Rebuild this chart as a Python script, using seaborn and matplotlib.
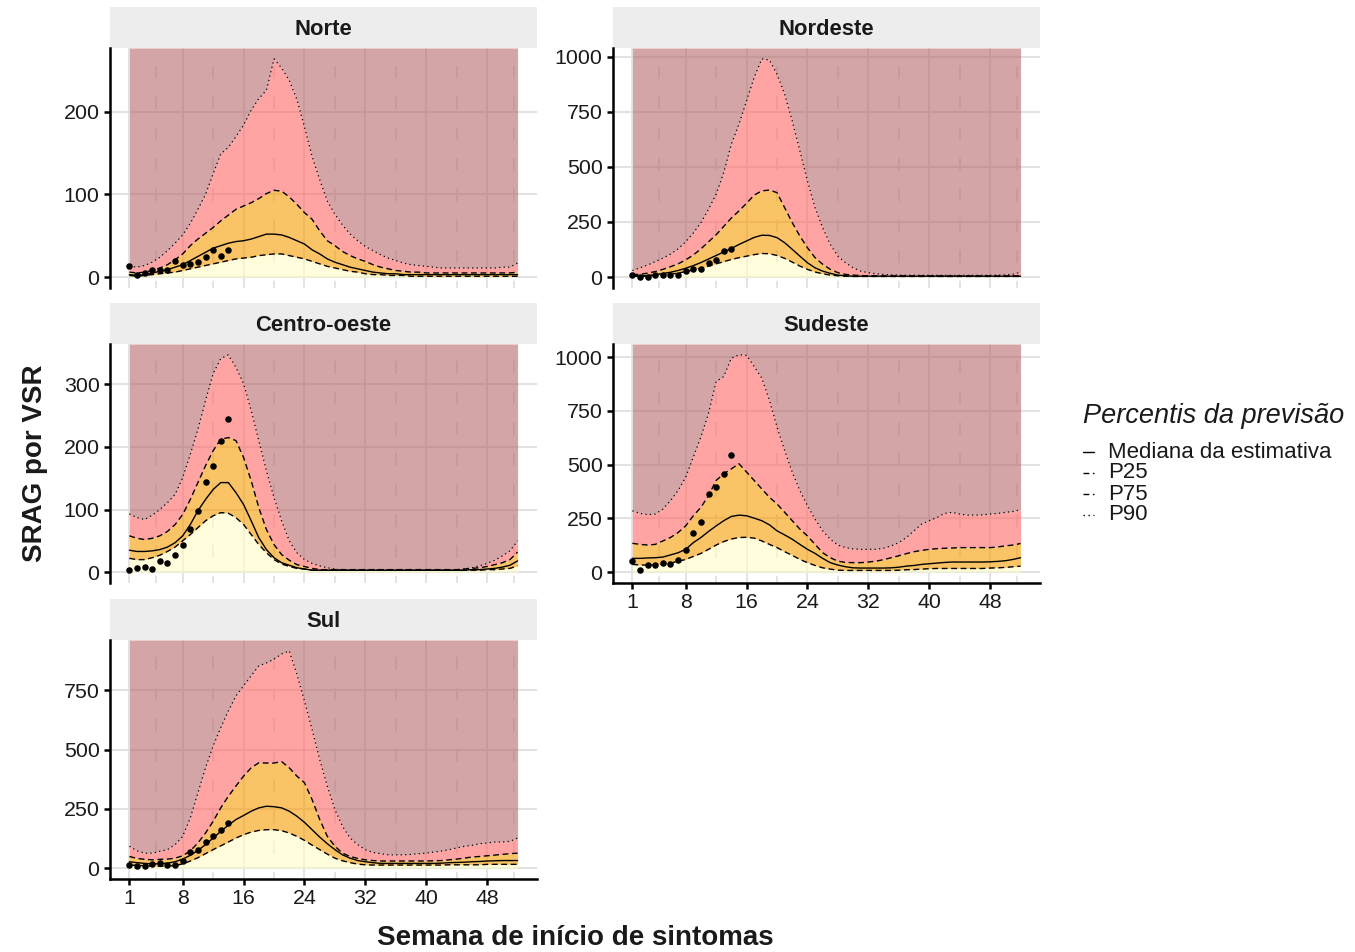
import matplotlib
matplotlib.use("Agg")
import matplotlib.pyplot as plt
from matplotlib.lines import Line2D
import numpy as np
import pandas as pd
import seaborn as sns

# ---------------- data ----------------
weeks = list(range(1, 53))
obs_weeks = list(range(1, 15))
regions = ["Norte", "Nordeste", "Centro-oeste", "Sudeste", "Sul"]
x_ticks = [1, 8, 16, 24, 32, 40, 48]

norte_med = [3, 2, 3, 5, 7, 9, 12, 15, 20, 25, 30, 35, 38, 41, 43, 44, 46, 49, 52, 52, 51, 48, 44, 40,
             33, 28, 22, 18, 15, 12, 10, 8, 6, 5, 4, 4, 3, 3, 3, 3, 3, 3, 3, 3, 3, 3, 3, 3, 3, 3, 3, 3]
norte_p25 = [2, 1, 2, 3, 4, 5, 6, 8, 10, 12, 14, 16, 18, 20, 22, 23, 24, 26, 27, 28, 28, 26, 24, 22,
             19, 16, 13, 11, 9, 7, 6, 4, 3, 3, 2, 2, 2, 1, 1, 1, 1, 1, 1, 1, 1, 1, 1, 1, 1, 1, 1, 1]
norte_p75 = [6, 5, 6, 8, 11, 15, 21, 28, 38, 46, 53, 60, 68, 75, 82, 86, 90, 95, 101, 105, 104, 97, 88, 78,
             70, 56, 44, 38, 31, 26, 22, 19, 15, 12, 10, 8, 7, 6, 6, 5, 5, 5, 5, 5, 5, 5, 5, 5, 5, 5, 5, 6]
norte_p90 = [13, 12, 14, 18, 24, 32, 41, 51, 65, 82, 100, 125, 149, 157, 170, 184, 202, 216, 226, 264, 253, 238, 215, 182,
             146, 118, 92, 76, 63, 52, 44, 37, 32, 27, 23, 20, 17, 15, 14, 13, 12, 11, 11, 11, 11, 11, 11, 11, 11, 12, 12, 17]
norte_obs = [14, 2, 4.5, 8, 8.5, 9, 19, 15, 16, 18, 24, 33, 25, 33]

nordeste_med = [8, 5, 7, 11, 16, 22, 30, 40, 52, 66, 82, 98, 114, 130, 148, 164, 180, 190, 189, 179, 156, 126, 95, 65,
                42, 27, 17, 9, 6, 4, 4, 4, 4, 4, 4, 4, 4, 4, 4, 4, 4, 4, 4, 4, 4, 4, 4, 4, 4, 4, 4, 4]
nordeste_p25 = [4, 3, 5, 7, 10, 13, 18, 25, 32, 40, 50, 60, 70, 80, 88, 95, 102, 107, 106, 98, 85, 68, 50, 35,
                23, 15, 9, 6, 4, 3, 3, 3, 3, 3, 3, 3, 3, 3, 3, 3, 3, 3, 3, 3, 3, 3, 3, 3, 3, 3, 3, 3]
nordeste_p75 = [12, 12, 18, 25, 35, 47, 60, 78, 100, 128, 160, 192, 230, 268, 300, 335, 372, 391, 395, 383, 315, 247, 186, 133,
                88, 58, 35, 20, 12, 9, 7, 6, 6, 5, 5, 5, 5, 5, 5, 5, 5, 5, 5, 5, 5, 5, 5, 5, 5, 5, 5, 6]
nordeste_p90 = [30, 42, 55, 70, 86, 104, 128, 160, 200, 247, 308, 376, 474, 603, 694, 800, 906, 990, 985, 921, 830, 709, 573, 436,
                315, 224, 148, 95, 65, 42, 27, 20, 15, 12, 10, 9, 8, 8, 8, 8, 8, 8, 8, 8, 8, 8, 8, 8, 9, 10, 13, 22]
nordeste_obs = [8, 0, 2, 8, 8, 8, 9, 27, 36, 38, 62, 76, 118, 126]

centro_med = [35, 33, 33, 34, 36, 40, 47, 58, 76, 98, 116, 132, 143, 143, 127, 108, 82, 55, 36, 23, 15, 11, 7, 5,
              3, 3, 3, 3, 3, 3, 3, 3, 3, 3, 3, 3, 3, 3, 3, 3, 3, 3, 3, 3, 3, 4, 4, 5, 6, 8, 11, 18]
centro_p25 = [22, 20, 20, 23, 27, 33, 40, 50, 60, 71, 82, 90, 95, 94, 87, 76, 60, 44, 31, 20, 13, 9, 6, 5,
              3, 3, 3, 3, 3, 3, 3, 3, 3, 3, 3, 3, 3, 3, 3, 3, 3, 3, 3, 3, 3, 3, 3, 4, 4, 5, 6, 10]
centro_p75 = [58, 54, 52, 54, 58, 65, 76, 92, 116, 143, 170, 194, 212, 215, 210, 183, 146, 103, 68, 44, 28, 19, 12, 9,
              6, 4, 4, 4, 4, 4, 4, 4, 4, 4, 4, 4, 4, 4, 4, 4, 4, 4, 4, 4, 5, 6, 7, 9, 12, 15, 20, 32]
centro_p90 = [93, 87, 84, 91, 100, 111, 124, 151, 188, 228, 274, 317, 341, 347, 327, 301, 258, 210, 162, 119, 82, 50, 31, 20,
              14, 10, 7, 5, 3, 3, 3, 3, 3, 3, 3, 3, 3, 3, 3, 3, 3, 3, 3, 3, 5, 7, 10, 14, 19, 26, 34, 50]
centro_obs = [4, 6, 9, 5, 18, 14, 28, 44, 69, 98, 144, 169, 210, 244]

sudeste_med = [64, 64, 66, 67, 70, 80, 90, 106, 137, 161, 189, 215, 239, 259, 265, 262, 251, 239, 220, 192, 173, 153, 129, 106,
               87, 64, 44, 33, 25, 20, 19, 19, 19, 19, 20, 23, 28, 31, 36, 39, 42, 45, 47, 47, 47, 47, 47, 48, 50, 53, 59, 67]
sudeste_p25 = [36, 33, 33, 33, 36, 42, 50, 59, 73, 87, 106, 126, 142, 154, 161, 162, 158, 145, 129, 114, 95, 78, 59, 44,
               31, 20, 14, 9, 8, 8, 8, 8, 8, 8, 8, 9, 11, 12, 14, 16, 17, 17, 17, 17, 17, 17, 17, 19, 20, 22, 25, 28]
sudeste_p75 = [134, 129, 126, 129, 145, 161, 184, 215, 262, 301, 356, 426, 457, 480, 504, 465, 426, 387, 348, 317, 278, 239, 200, 168,
               129, 90, 67, 51, 45, 44, 44, 47, 51, 58, 67, 76, 86, 95, 101, 106, 109, 111, 112, 114, 114, 114, 114, 114, 117, 122, 126, 133]
sudeste_p90 = [285, 273, 267, 270, 293, 332, 379, 441, 535, 629, 738, 886, 909, 995, 1010, 1008, 956, 902, 800, 675, 566, 465, 379, 309,
               246, 192, 153, 126, 114, 108, 106, 106, 106, 111, 122, 137, 161, 192, 223, 239, 254, 273, 278, 270, 265, 265, 266, 270, 273, 278, 282, 290]
sudeste_obs = [51, 12, 33, 31, 44, 36, 56, 101, 181, 234, 362, 398, 455, 543]

sul_med = [27, 23, 20, 18, 18, 21, 27, 38, 54, 75, 99, 127, 155, 181, 205, 222, 240, 254, 261, 259, 254, 240, 219, 193,
           162, 131, 103, 78, 56, 42, 32, 27, 23, 20, 20, 20, 20, 20, 20, 20, 20, 21, 23, 24, 25, 27, 28, 30, 31, 32, 32, 32]
sul_p25 = [14, 11, 10, 8, 8, 8, 11, 18, 30, 44, 61, 78, 94, 110, 127, 141, 152, 159, 162, 162, 158, 148, 134, 117,
           97, 78, 59, 42, 31, 23, 17, 14, 13, 13, 13, 13, 13, 13, 13, 13, 13, 13, 14, 14, 14, 14, 14, 16, 16, 16, 16, 16]
sul_p75 = [49, 41, 37, 35, 37, 38, 42, 52, 73, 106, 148, 197, 254, 303, 346, 388, 423, 444, 443, 443, 449, 423, 388, 360,
           289, 205, 134, 92, 63, 49, 41, 35, 32, 30, 30, 30, 30, 30, 30, 30, 31, 32, 35, 38, 42, 47, 49, 52, 55, 58, 61, 63]
sul_p90 = [92, 73, 63, 63, 71, 78, 99, 134, 212, 317, 423, 515, 592, 663, 726, 769, 811, 853, 865, 881, 903, 916, 818, 705,
           585, 458, 346, 247, 176, 127, 99, 78, 66, 61, 56, 56, 56, 58, 61, 63, 68, 72, 78, 85, 92, 96, 103, 106, 110, 110, 113, 127]
sul_obs = [14, 10, 10, 16, 21, 14, 13, 32, 66, 75, 110, 134, 162, 190]

y_ticks = {
    "Norte": [0, 100, 200],
    "Nordeste": [0, 250, 500, 750, 1000],
    "Centro-oeste": [0, 100, 200, 300],
    "Sudeste": [0, 250, 500, 750, 1000],
    "Sul": [0, 250, 500, 750],
}

series = {
    "Norte": (norte_med, norte_p25, norte_p75, norte_p90, norte_obs),
    "Nordeste": (nordeste_med, nordeste_p25, nordeste_p75, nordeste_p90, nordeste_obs),
    "Centro-oeste": (centro_med, centro_p25, centro_p75, centro_p90, centro_obs),
    "Sudeste": (sudeste_med, sudeste_p25, sudeste_p75, sudeste_p90, sudeste_obs),
    "Sul": (sul_med, sul_p25, sul_p75, sul_p90, sul_obs),
}

# ---------------- style ----------------
sns.set_style("white")
plt.rcParams["font.family"] = ["Liberation Sans", "DejaVu Sans"]
plt.rcParams["axes.unicode_minus"] = False

W, H = 1355, 952
fig = plt.figure(figsize=(W / 100, H / 100), dpi=100)


def frac(x0, y0, x1, y1):
    return [x0 / W, 1 - y1 / H, (x1 - x0) / W, (y1 - y0) / H]


# panel pixel boxes: left, top, right, bottom, has x-axis
layout = {
    "Norte": (110, 48, 537, 288, False),
    "Nordeste": (613, 48, 1040, 288, False),
    "Centro-oeste": (110, 344, 537, 583, False),
    "Sudeste": (613, 344, 1040, 583, True),
    "Sul": (110, 640, 537, 879, True),
}

ALPHA = 0.6
C_TOP = "#B7696B"
C_HIGH = "#FF6666"
C_MID = "#F89B00"
C_LOW = "#FFFDC3"
GRID = "#E2E2E2"
TXT = "#1A1A1A"

LS_DASH = (0, (4.2, 2.6))
LS_DOT = (0, (1, 2.6))

for reg in regions:
    x0, y0, x1, y1, has_x = layout[reg]
    med, p25, p75, p90, obs = series[reg]
    df = pd.DataFrame({"semana": weeks, "med": med, "p25": p25, "p75": p75, "p90": p90})
    dfo = pd.DataFrame({"semana": obs_weeks, "obs": obs})

    # strip
    sax = fig.add_axes(frac(x0, y0 - 41, x1, y0))
    sax.set_facecolor("#EDEDED")
    sax.set_xticks([]); sax.set_yticks([])
    for s in sax.spines.values():
        s.set_visible(False)
    sax.text(0.5, 0.45, reg, ha="center", va="center", fontsize=15.8, fontweight="bold", color=TXT,
             transform=sax.transAxes)

    ax = fig.add_axes(frac(x0, y0, x1, y1))
    ax.set_facecolor("white")
    lo = min(0, min(p25), min(obs))
    hi = max(max(p90), max(obs))
    pad = 0.05 * (hi - lo)
    ylim = (lo - pad, hi + pad)
    xpad = 0.05 * (weeks[-1] - weeks[0])
    ax.set_xlim(weeks[0] - xpad, weeks[-1] + xpad)
    ax.set_ylim(*ylim)

    # grid
    ax.set_axisbelow(True)
    ax.set_xticks(x_ticks)
    ax.set_xticks([1, 4.5, 12, 20, 28, 36, 44, 51.5], minor=True)
    ax.set_yticks(y_ticks[reg])
    ax.grid(axis="y", which="major", color=GRID, lw=1.5)
    ax.grid(axis="x", which="major", color=GRID, lw=1.3)
    ax.grid(axis="x", which="minor", color=GRID, lw=1.3, linestyle=(3, (7, 10)))

    # ribbons
    ax.fill_between(df["semana"], df["p90"], ylim[1], color=C_TOP, alpha=ALPHA, lw=0, zorder=1)
    ax.fill_between(df["semana"], df["p75"], df["p90"], color=C_HIGH, alpha=ALPHA, lw=0, zorder=1)
    ax.fill_between(df["semana"], df["p25"], df["p75"], color=C_MID, alpha=ALPHA, lw=0, zorder=1)
    ax.fill_between(df["semana"], 0, df["p25"], color=C_LOW, alpha=ALPHA, lw=0, zorder=1)

    # lines
    sns.lineplot(data=df, x="semana", y="med", ax=ax, color="black", lw=1.0, zorder=3)
    sns.lineplot(data=df, x="semana", y="p25", ax=ax, color="black", lw=1.0, linestyle=LS_DASH, zorder=3)
    sns.lineplot(data=df, x="semana", y="p75", ax=ax, color="black", lw=1.0, linestyle=LS_DASH, zorder=3)
    sns.lineplot(data=df, x="semana", y="p90", ax=ax, color="black", lw=0.9, linestyle=LS_DOT, zorder=3)
    sns.scatterplot(data=dfo, x="semana", y="obs", ax=ax, color="black", s=22, linewidth=0, zorder=4)

    ax.set_xlabel(""); ax.set_ylabel("")
    for s in ["top", "right"]:
        ax.spines[s].set_visible(False)
    ax.spines["left"].set_color("black")
    ax.spines["left"].set_linewidth(1.8)
    ax.tick_params(axis="y", which="major", length=4.5, width=1.8, color="black", labelsize=15.4,
                   labelcolor=TXT, pad=3, left=True)
    ax.tick_params(axis="x", which="minor", length=0)
    if has_x:
        ax.spines["bottom"].set_color("black")
        ax.spines["bottom"].set_linewidth(1.8)
        ax.tick_params(axis="x", which="major", length=4.5, width=1.8, color="black", labelsize=15.4,
                       labelcolor=TXT, pad=3, bottom=True)
        ax.set_xticklabels([str(t) for t in x_ticks])
    else:
        ax.spines["bottom"].set_visible(False)
        ax.tick_params(axis="x", which="major", length=0, labelbottom=False)
    ax.set_yticklabels([str(t) for t in y_ticks[reg]])

# axis titles
fig.text(575 / W, 1 - 938 / H, "Semana de início de sintomas", ha="center", va="center",
         fontsize=20, fontweight="bold", color=TXT)
fig.text(35 / W, 1 - 463 / H, "SRAG por VSR", ha="center", va="center", rotation=90,
         fontsize=20, fontweight="bold", color=TXT)

# legend (manual)
fig.text(1083 / W, 1 - 416 / H, "Percentis da previsão", ha="left", va="center",
         fontsize=19.5, fontstyle="italic", color=TXT)
leg_labels = ["Mediana da estimativa", "P25", "P75", "P90"]
leg_styles = ["-", LS_DASH, LS_DASH, LS_DOT]
leg_y = [452, 473, 494, 515]
for lab, ls, yy in zip(leg_labels, leg_styles, leg_y):
    fig.add_artist(Line2D([1083 / W, 1094 / W], [1 - yy / H, 1 - yy / H], transform=fig.transFigure,
                          color="black", lw=1.0, linestyle=ls))
    fig.text(1108 / W, 1 - yy / H, lab, ha="left", va="center", fontsize=16, color=TXT)

fig.savefig("out.png", dpi=100)
